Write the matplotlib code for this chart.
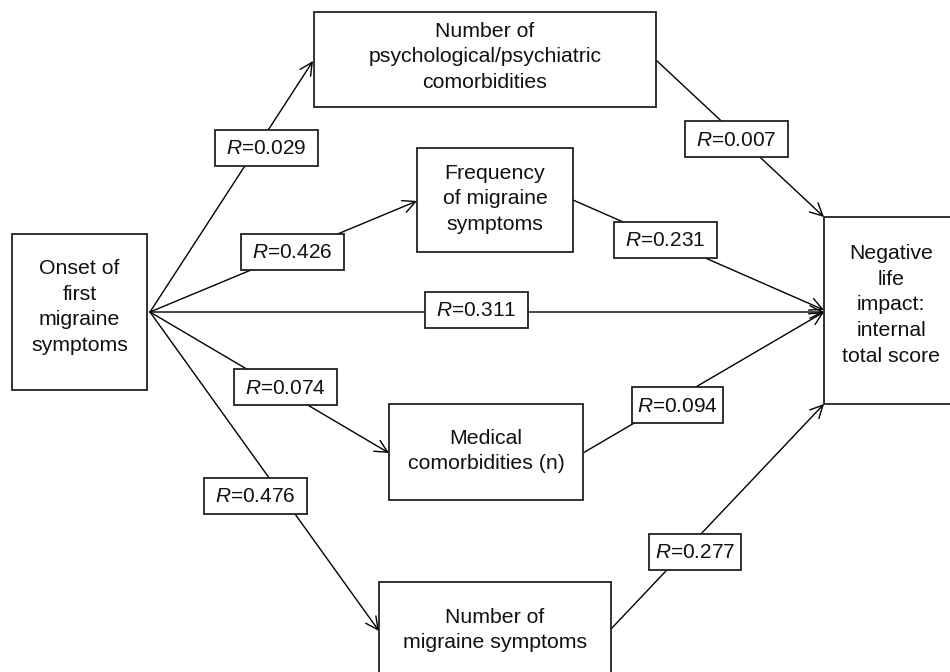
import matplotlib
matplotlib.use("Agg")
import matplotlib.pyplot as plt
from matplotlib.patches import Rectangle

plt.rcParams['font.family'] = ['Liberation Sans', 'DejaVu Sans']
plt.rcParams['mathtext.fontset'] = 'custom'
plt.rcParams['mathtext.rm'] = 'Liberation Sans'
plt.rcParams['mathtext.it'] = 'Liberation Sans:italic'

# ── Data ───────────────────────────────────────────────────────────────────────
node_names = ['onset', 'psych', 'freq', 'outcome', 'medical', 'number']
node_labels = [
    'Onset of\nfirst\nmigraine\nsymptoms',
    'Number of\npsychological/psychiatric\ncomorbidities',
    'Frequency\nof migraine\nsymptoms',
    'Negative\nlife\nimpact:\ninternal\ntotal score',
    'Medical\ncomorbidities (n)',
    'Number of\nmigraine symptoms',
]
edge_from = ['onset', 'onset', 'onset', 'onset', 'onset',
             'psych', 'freq', 'medical', 'number']
edge_to = ['psych', 'freq', 'outcome', 'medical', 'number',
           'outcome', 'outcome', 'outcome', 'outcome']
edge_r = [0.029, 0.426, 0.311, 0.074, 0.476, 0.007, 0.231, 0.094, 0.277]

# ── Layout (pixels, y downward) ───────────────────────────────────────────────
# node box: x0, y0, x1, y1, text centre y
boxes = {
    'onset':   (12, 234, 147, 390, 307),
    'psych':   (314, 12, 656, 107, 57),
    'freq':    (417, 148, 573, 252, 199),
    'outcome': (824, 217, 960, 404, 305),
    'medical': (389, 404, 583, 500, 451),
    'number':  (379, 582, 611, 700, 630),
}
# arrow start / end points
starts = [(150, 312)] * 5 + [(656, 60), (573, 200), (583, 453), (611, 629)]
ends = [(313, 61), (417, 201), (824, 312), (389, 453), (379, 631),
        (824, 217), (824, 310), (824, 312), (824, 404)]
# label box centres and widths
lab_xy = [(266, 148), (292, 252), (476, 310), (285, 387), (255, 496),
          (736, 139), (665, 240), (677, 405), (695, 552)]
lab_w = [103, 103, 103, 103, 103, 103, 103, 91, 92]
LAB_H = 36

fig = plt.figure(figsize=(9.5, 6.72), dpi=100)
ax = fig.add_axes([0, 0, 1, 1])
ax.set_xlim(0, 950)
ax.set_ylim(672, 0)
ax.axis('off')

FS = 15.3
EDGE = '#222222'

for name, label in zip(node_names, node_labels):
    x0, y0, x1, y1, ty = boxes[name]
    ax.add_patch(Rectangle((x0, y0), x1 - x0, y1 - y0, fc='white',
                           ec=EDGE, lw=1.3, zorder=2))
    tx = (x0 + x1) / 2 if name != 'outcome' else 891
    ax.text(tx, ty, label, ha='center', va='center', fontsize=FS,
            color='#111111', linespacing=1.45, zorder=3)

for (sx, sy), (ex, ey) in zip(starts, ends):
    ax.annotate('', xy=(ex, ey), xytext=(sx, sy),
                arrowprops=dict(arrowstyle='->,head_length=0.9,head_width=0.45',
                                color='black', lw=1.0, shrinkA=0, shrinkB=0,
                                mutation_scale=10),
                zorder=1)

for r, (cx, cy), w in zip(edge_r, lab_xy, lab_w):
    ax.add_patch(Rectangle((cx - w / 2, cy - LAB_H / 2), w, LAB_H,
                           fc='white', ec=EDGE, lw=1.3, zorder=4))
    ax.text(cx, cy + 1, r'$\mathit{R}$=%.3f' % r, ha='center', va='center',
            fontsize=15, color='#111111', zorder=5)

fig.savefig('out.png', dpi=100)
